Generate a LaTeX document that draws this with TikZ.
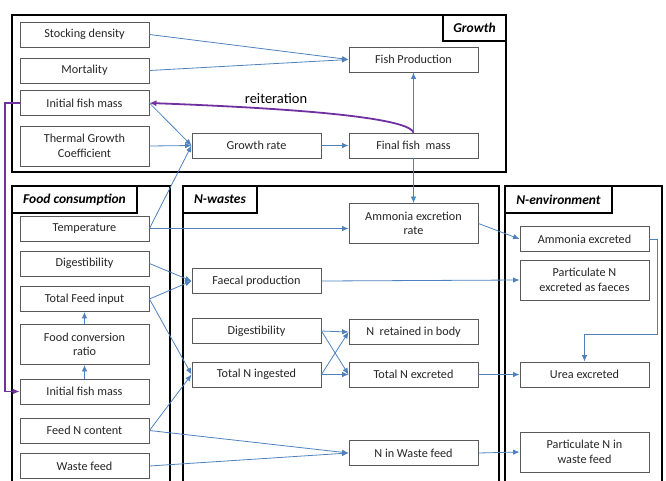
\documentclass[tikz,border=0pt]{standalone}
\usepackage{fontspec}
\setmainfont{Carlito}
\usetikzlibrary{arrows.meta,calc}
\definecolor{flowblue}{HTML}{4F81BD}
\definecolor{loopviolet}{HTML}{7030A0}
\definecolor{boxgray}{HTML}{595959}
\definecolor{txtgray}{HTML}{262626}
\begin{document}
\begin{tikzpicture}[x=1pt,y=-1pt,
  box/.style={draw=boxgray,line width=0.9pt,fill=white,minimum width=129pt,minimum height=25pt,
    inner sep=1pt,align=center,font=\fontsize{12.2}{14.5}\selectfont,text=txtgray},
  tallbox/.style={box,minimum height=40pt},
  frame/.style={draw=black,line width=2.6pt},
  titlebox/.style={draw=black,line width=2.6pt,fill=white,font=\fontsize{13.5}{15}\selectfont\bfseries\itshape},
  flow/.style={draw=flowblue,line width=0.8pt,-{Latex[length=6.5pt,width=5.5pt]}},
  loop/.style={draw=loopviolet,line width=1.8pt,-{Latex[length=7pt,width=6pt]}}]
\useasboundingbox (0,0) rectangle (666,480);
\clip (0,0) rectangle (666,480);

% module frames
\draw[frame] (12,15) rectangle (506,172);
\draw[frame] (12,186) rectangle (170,500);
\draw[frame] (183,186) rectangle (499,500);
\draw[frame] (505,186) rectangle (662,500);

% module titles
\node[titlebox,minimum width=63pt,minimum height=26pt] (tgrowth) at (474.5,28) {Growth};
\node[titlebox,minimum width=125pt,minimum height=27pt] (tfood) at (74.5,199.5) {Food consumption};
\node[titlebox,minimum width=74pt,minimum height=27pt] (twaste) at (220,199.5) {N-wastes};
\node[titlebox,minimum width=107pt,minimum height=27pt] (tenv) at (558.5,199.5) {N-environment};

% growth module
\node[box] (stock) at (84.5,34.5) {Stocking density};
\node[box] (mort) at (84.5,70.5) {Mortality};
\node[box] (ifmA) at (84.5,103) {Initial fish mass};
\node[tallbox] (tgc) at (84.5,146) {Thermal Growth\\Coefficient};
\node[box] (grate) at (256.5,145.5) {Growth rate};
\node[box] (fprod) at (413.5,59.5) {Fish Production};
\node[box] (ffm) at (413.5,145.5) {Final fish\ \ mass};

% food consumption module
\node[box] (temp) at (84.5,228.5) {Temperature};
\node[box] (digA) at (84.5,263.5) {Digestibility};
\node[box] (tfi) at (84.5,299) {Total Feed input};
\node[tallbox] (fcr) at (84.5,344.5) {Food conversion\\ratio};
\node[box] (ifmB) at (84.5,391.5) {Initial fish mass};
\node[box] (fnc) at (84.5,430.5) {Feed N content};
\node[box] (wfeed) at (84.5,466) {Waste feed};

% N-wastes module
\node[box] (faec) at (256.5,281) {Faecal production};
\node[box] (digB) at (256.5,331) {Digestibility};
\node[box] (tni) at (256.5,374.5) {Total N ingested};
\node[tallbox] (aer) at (413.5,223.5) {Ammonia excretion\\rate};
\node[box] (nret) at (413.5,332) {N\ \ retained in body};
\node[box] (tne) at (413.5,374.5) {Total N excreted};
\node[box] (nwf) at (413.5,453) {N in Waste feed};

% N-environment module
\node[box] (aex) at (584.5,239) {Ammonia excreted};
\node[tallbox] (pnf) at (584.5,280) {Particulate N\\excreted as faeces};
\node[box] (urea) at (584.5,374.5) {Urea excreted};
\node[tallbox] (pnw) at (584.5,452) {Particulate N in\\waste feed};

% growth flows
\draw[flow] (stock.east) -- (fprod.west);
\draw[flow] (mort.east) -- (fprod.west);
\draw[flow] (ifmA.east) -- (grate.west);
\draw[flow] (tgc.east) -- (grate.west);
\draw[flow] (temp.east) -- (grate.west);
\draw[flow] (grate.east) -- (ffm.west);
\draw[flow] (ffm.north) -- (fprod.south);
\draw[flow] (ffm.south) -- (aer.north);

% reiteration loop
\draw[loop] (ffm.north) .. controls (410,121) and (340,110) .. (ifmA.east);
\node[font=\fontsize{14.5}{16}\selectfont] (reit) at (276,99) {reiteration};
\coordinate (loopx) at (5,0);
\draw[loop] (ifmA.west) -- (ifmA.west -| loopx) |- (ifmB.west);

% food consumption flows
\draw[flow] (temp.east) -- (temp.east -| aer.west);
\draw[flow] (digA.east) -- (faec.west);
\draw[flow] (tfi.east) -- (faec.west);
\draw[flow] (tfi.east) -- (tni.west);
\draw[flow] (fcr.north) -- (tfi.south);
\draw[flow] (ifmB.north) -- (fcr.south);
\draw[flow] (fnc.east) -- (tni.west);
\draw[flow] (fnc.east) -- (nwf.west);
\draw[flow] (wfeed.east) -- (nwf.west);

% N-wastes flows
\draw[flow] (faec.east) -- (pnf.west);
\draw[flow] (digB.east) -- (nret.west);
\draw[flow] (digB.east) -- (tne.west);
\draw[flow] (tni.east) -- (nret.west);
\draw[flow] (tni.east) -- (tne.west);
\draw[flow] (aer.east) -- (aex.west);
\draw[flow] (tne.east) -- (urea.west);
\draw[flow] (nwf.east) -- (pnw.west);

% ammonia to urea
\coordinate (ubend) at (657,334);
\draw[flow] (aex.east) -| (ubend) -| (urea.north);
\end{tikzpicture}
\end{document}
